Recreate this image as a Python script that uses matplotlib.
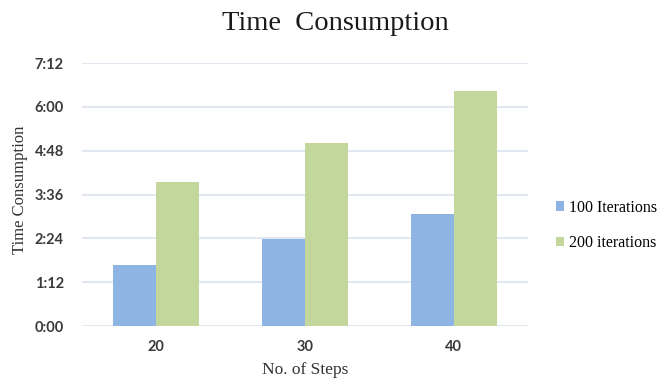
import matplotlib
matplotlib.use("Agg")
import matplotlib.pyplot as plt
from matplotlib.ticker import FuncFormatter, MultipleLocator
import numpy as np

# data (time in minutes, shown as h:mm)
steps = ["20", "30", "40"]
iter_100 = [101, 143, 184]
iter_200 = [236, 300, 387]
series_labels = ["100 Iterations", "200 iterations"]

blue = "#8EB4E3"
green = "#C3D69B"

fig = plt.figure(figsize=(6.66, 3.85), dpi=100)
ax = fig.add_axes([0.123, 0.153, 0.670, 0.683])

x = np.arange(len(steps))
w = 0.288
ax.bar(x - w / 2, iter_100, w, color=blue, label=series_labels[0], zorder=3)
ax.bar(x + w / 2, iter_200, w, color=green, label=series_labels[1], zorder=3)

ax.set_xlim(-0.5, 2.5)
ax.set_ylim(0, 432)
ax.yaxis.set_major_locator(MultipleLocator(72))
ax.yaxis.set_major_formatter(FuncFormatter(lambda v, p: "%d:%02d" % (v // 60, v % 60)))
ax.set_xticks(x)
ax.set_xticklabels(steps)
ax.grid(axis="y", color="#DCE4F0", lw=1.2, zorder=0)
for s in ax.spines.values():
    s.set_visible(False)
ax.tick_params(length=0, labelsize=10.5, labelcolor="#3a3a3a")
ax.tick_params(axis="y", pad=13)
ax.tick_params(axis="x", pad=10)
for t in ax.get_xticklabels() + ax.get_yticklabels():
    t.set_family("Lato")
    t.set_fontweight("bold")

serif = "Liberation Serif"
fig.text(0.503, 0.94, "Time  Consumption", ha="center", va="center", family=serif, fontsize=20.5, color="#1a1a1a")
fig.text(0.03, 0.506, "Time Consumption", rotation=90, ha="center", va="center",
         family=serif, fontsize=12, color="#333333")
ax.set_xlabel("No. of Steps", family=serif, fontsize=12.5, color="#333333", labelpad=6)

fig.legend(loc="center left", bbox_to_anchor=(0.835, 0.415), frameon=False,
           prop={"family": serif, "size": 11.5}, handlelength=0.5, handleheight=0.5,
           handletextpad=0.3, labelspacing=1.2, borderpad=0, borderaxespad=0)

fig.savefig("out.png", dpi=100)
